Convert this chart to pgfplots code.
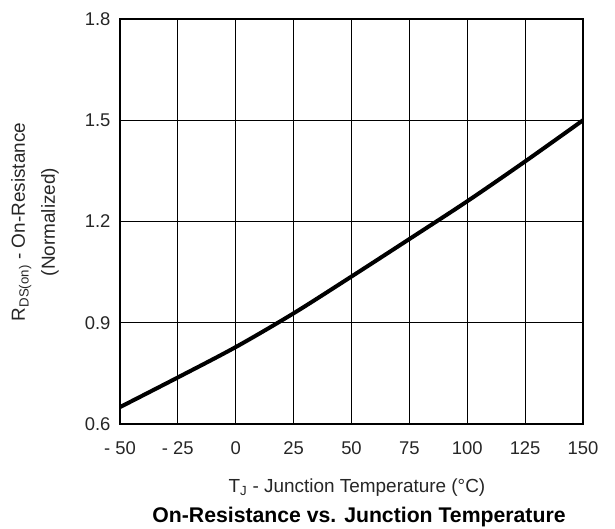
\documentclass[border=0pt]{standalone}
\usepackage{fontspec}
\setmainfont{Liberation Sans}
\usepackage{pgfplots}
\pgfplotsset{compat=1.18}

\begin{document}
\begin{tikzpicture}
\useasboundingbox (-120bp,-105bp) rectangle (495bp,424bp);
\begin{axis}[
  at={(0,0)}, anchor=south west,
  scale only axis,
  width=463bp, height=405bp,
  xmin=-50, xmax=150,
  ymin=0.6, ymax=1.8,
  xtick={-50,-25,0,25,50,75,100,125,150},
  xticklabels={- 50,- 25,0,25,50,75,100,125,150},
  ytick={0.6,0.9,1.2,1.5,1.8},
  yticklabels={0.6,0.9,1.2,1.5,1.8},
  grid=major,
  major grid style={black, line width=0.9bp},
  axis line style={black, line width=2.6bp},
  major tick length=0pt,
  tick label style={font=\fontsize{18.5}{21}\selectfont, text=black!85},
  xticklabel style={yshift=-14bp},
  yticklabel style={xshift=-6bp},
  xlabel={T\textsubscript{J} - Junction Temperature (°C)},
  xlabel style={at={(axis description cs:0,0)}, anchor=base, xshift=237bp, yshift=-68bp,
    font=\fontsize{19}{22}\selectfont, text=black!85},
  title={\textbf{On-Resistance vs. Junction Temperature}},
  title style={at={(axis description cs:0,0)}, anchor=base, xshift=239bp, yshift=-104bp,
    font=\fontsize{21.3}{24}\selectfont},
]
\addplot[black, line width=4bp, smooth, tension=0.5] coordinates {
  (-50,0.650) (-25,0.738) (0,0.828) (25,0.928) (50,1.037)
  (75,1.148) (100,1.260) (125,1.378) (150,1.500)
};
\end{axis}
\node[rotate=90, anchor=base, font=\fontsize{19}{22}\selectfont, text=black!85]
  at (-95bp,202bp) {R\textsubscript{DS(on)} - On-Resistance};
\node[rotate=90, anchor=base, font=\fontsize{19}{22}\selectfont, text=black!85]
  at (-65bp,202bp) {(Normalized)};
\end{tikzpicture}
\end{document}
